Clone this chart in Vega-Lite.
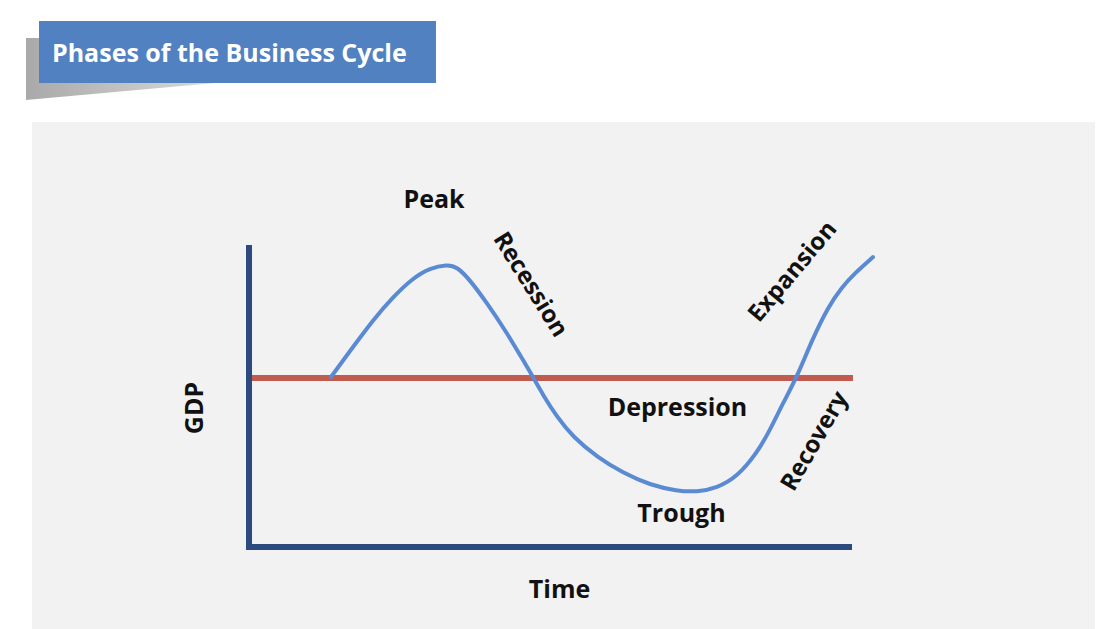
{
  "$schema": "https://vega.github.io/schema/vega-lite/v6.json",
  "width": 1115,
  "height": 629,
  "autosize": {"type": "fit", "contains": "padding"},
  "padding": 0,
  "background": "white",
  "config": {"view": {"stroke": null}},
  "encoding": {
    "x": {"field": "t", "type": "quantitative", "scale": {"domain": [-41.333, 144.5], "nice": false, "zero": false}, "axis": null},
    "y": {"field": "g", "type": "quantitative", "scale": {"domain": [-27, 182.667], "nice": false, "zero": false}, "axis": null}
  },
  "layer": [
    {
      "data": {"values": [{"t": -36, "t2": 141.17, "g": 142, "g2": -27}]},
      "mark": {"type": "rect", "color": "#f2f2f2"},
      "encoding": {"x2": {"field": "t2"}, "y2": {"field": "g2"}}
    },
    {
      "data": {"values": [{"t": -37, "g": 170, "g2": 149.33}, {"t": -5.5, "g": 170, "g2": 155}]},
      "mark": {"type": "area", "color": {"gradient": "linear", "x1": 0, "x2": 1, "y1": 0, "y2": 0, "stops": [{"offset": 0, "color": "#a9a9a9"}, {"offset": 1, "color": "#d9d9d9"}]}},
      "encoding": {"y2": {"field": "g2"}}
    },
    {
      "data": {"values": [{"t": -34.83, "t2": 31.33, "g": 175.67, "g2": 155}]},
      "mark": {"type": "rect", "color": "#5181c1"},
      "encoding": {"x2": {"field": "t2"}, "y2": {"field": "g2"}}
    },
    {
      "data": {"values": [{"t": -32.67, "g": 162, "label": "Phases of the Business Cycle"}]},
      "mark": {"type": "text", "align": "left", "baseline": "alphabetic", "font": "Open Sans", "fontWeight": "bold", "fontSize": 25, "color": "white"},
      "encoding": {"text": {"field": "label"}}
    },
    {
      "data": {"values": [{"t": 0.5, "t2": 100.83, "g": 56.67}]},
      "mark": {"type": "rule", "color": "#bf5b4f", "strokeWidth": 6},
      "encoding": {"x2": {"field": "t2"}}
    },
    {
      "data": {"values": [{"t": 0.17, "g": 101, "g2": -0.67}]},
      "mark": {"type": "rule", "color": "#2c4a7e", "strokeWidth": 6},
      "encoding": {"y2": {"field": "g2"}}
    },
    {
      "data": {"values": [{"t": -0.33, "t2": 100.67, "g": 0.33}]},
      "mark": {"type": "rule", "color": "#2c4a7e", "strokeWidth": 6},
      "encoding": {"x2": {"field": "t2"}}
    },
    {
      "data": {"values": [
        {"t": 13.83, "g": 57}, {"t": 17.5, "g": 67}, {"t": 20.83, "g": 76}, {"t": 24.17, "g": 83.67},
        {"t": 27.5, "g": 90}, {"t": 30.33, "g": 93.33}, {"t": 33.17, "g": 94.5}, {"t": 34.83, "g": 93.8},
        {"t": 37, "g": 89.33}, {"t": 39.83, "g": 81.67}, {"t": 43.17, "g": 71.67}, {"t": 45.83, "g": 62.67},
        {"t": 47.5, "g": 57}, {"t": 49.17, "g": 51}, {"t": 51.5, "g": 43.67}, {"t": 54.17, "g": 37},
        {"t": 58.17, "g": 30.33}, {"t": 62.5, "g": 25}, {"t": 67, "g": 21}, {"t": 71.5, "g": 19},
        {"t": 74.83, "g": 18.67}, {"t": 78.17, "g": 20}, {"t": 81.5, "g": 23.67}, {"t": 84.83, "g": 31.67},
        {"t": 87, "g": 39.33}, {"t": 89.17, "g": 48.33}, {"t": 91.5, "g": 57}, {"t": 94, "g": 69.33},
        {"t": 96.67, "g": 80.33}, {"t": 99, "g": 87}, {"t": 101.17, "g": 91.67}, {"t": 104.17, "g": 97}
      ]},
      "mark": {"type": "line", "color": "#5a8ad4", "strokeWidth": 4, "interpolate": "basis", "strokeCap": "round"}
    },
    {
      "data": {"values": [
        {"t": 31, "g": 113.33, "label": "Peak"},
        {"t": 71.58, "g": 44, "label": "Depression"},
        {"t": 72.25, "g": 8.67, "label": "Trough"},
        {"t": 51.92, "g": -16.67, "label": "Time"}
      ]},
      "mark": {"type": "text", "align": "center", "baseline": "alphabetic", "font": "Open Sans", "fontWeight": "bold", "fontSize": 25, "color": "#111111"},
      "encoding": {"text": {"field": "label"}}
    },
    {
      "data": {"values": [{"t": 47, "g": 87.67, "label": "Recession"}]},
      "mark": {"type": "text", "align": "center", "baseline": "middle", "angle": 58, "font": "Open Sans", "fontWeight": "bold", "fontSize": 24, "color": "#111111"},
      "encoding": {"text": {"field": "label"}}
    },
    {
      "data": {"values": [{"t": 90.83, "g": 92, "label": "Expansion"}]},
      "mark": {"type": "text", "align": "center", "baseline": "middle", "angle": -50, "font": "Open Sans", "fontWeight": "bold", "fontSize": 24, "color": "#111111"},
      "encoding": {"text": {"field": "label"}}
    },
    {
      "data": {"values": [{"t": 94.5, "g": 35.5, "label": "Recovery"}]},
      "mark": {"type": "text", "align": "center", "baseline": "middle", "angle": -60, "font": "Open Sans", "fontWeight": "bold", "fontSize": 24, "color": "#111111"},
      "encoding": {"text": {"field": "label"}}
    },
    {
      "data": {"values": [{"t": -8.83, "g": 46.67, "label": "GDP"}]},
      "mark": {"type": "text", "align": "center", "baseline": "middle", "angle": -90, "font": "Open Sans", "fontWeight": "bold", "fontSize": 25, "color": "#111111"},
      "encoding": {"text": {"field": "label"}}
    }
  ]
}
